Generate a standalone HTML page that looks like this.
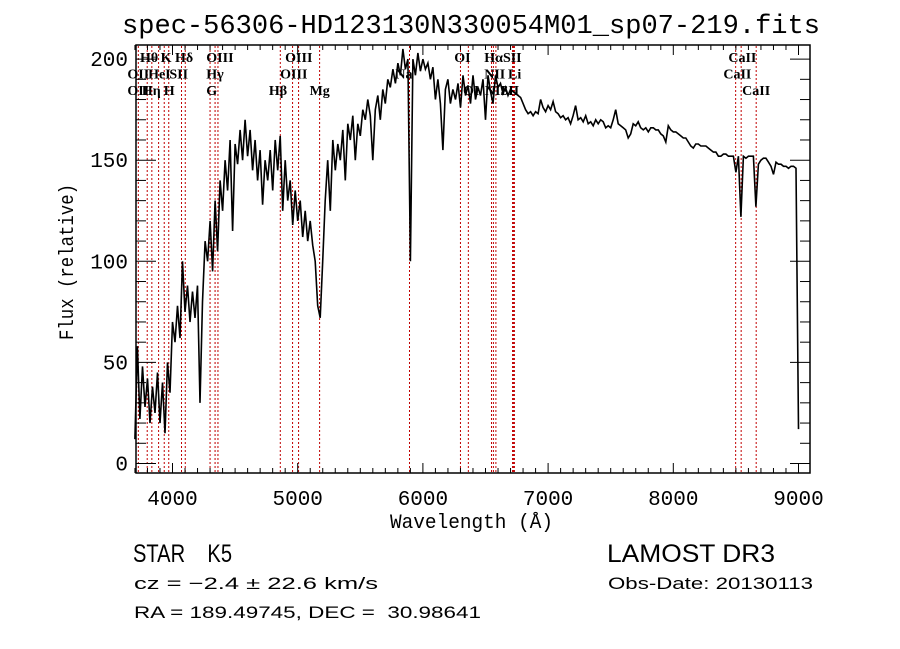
<!DOCTYPE html>
<html><head><meta charset="utf-8"><style>
html,body{margin:0;padding:0;background:#fff;}
svg{display:block;}
text{fill:#000;white-space:pre;}
.mono{font-family:"Liberation Mono",monospace;}
.lbl{font-family:"Liberation Serif",serif;font-size:14px;font-weight:600;}
</style></head><body>
<svg id="chart" width="900" height="649" viewBox="0 0 900 649" xmlns="http://www.w3.org/2000/svg" xml:space="preserve">
<rect width="900" height="649" fill="#fff"/>
<text class="mono" x="122" y="33" font-size="27" textLength="698" lengthAdjust="spacingAndGlyphs">spec-56306-HD123130N330054M01_sp07-219.fits</text>
<g id="lines"></g>
<g id="labels"></g>
<g id="spec"></g>
<rect x="136" y="45" width="674" height="428" fill="none" stroke="#000" stroke-width="1.5"/>
<g id="axes"></g>
<text class="mono" x="390" y="528" font-size="20" textLength="163" lengthAdjust="spacingAndGlyphs">Wavelength (Å)</text>
<text class="mono" transform="translate(73,340) rotate(-90)" font-size="20" textLength="156" lengthAdjust="spacingAndGlyphs">Flux (relative)</text>
<text font-family="Liberation Sans, sans-serif" x="133" y="562" font-size="25" textLength="99" lengthAdjust="spacingAndGlyphs">STAR    K5</text>
<text font-family="Liberation Sans, sans-serif" x="607" y="562" font-size="25" textLength="168" lengthAdjust="spacingAndGlyphs">LAMOST DR3</text>
<text font-family="Liberation Sans, sans-serif" x="134" y="589" font-size="17" textLength="244" lengthAdjust="spacingAndGlyphs">cz = −2.4 ± 22.6 km/s</text>
<text font-family="Liberation Sans, sans-serif" x="608" y="589" font-size="17" textLength="205" lengthAdjust="spacingAndGlyphs">Obs-Date: 20130113</text>
<text font-family="Liberation Sans, sans-serif" x="134" y="618" font-size="17" textLength="347" lengthAdjust="spacingAndGlyphs">RA = 189.49745, DEC =  30.98641</text>
</svg>
<script>
const waveStart = 3700;
const waveStep = 20;
const flux = [12,58,22,48,28,42,20,38,25,45,20,40,15,50,35,70,60,78,62,100,75,88,70,85,72,88,30,80,110,100,120,95,130,105,140,125,150,135,160,115,158,148,165,150,170,152,165,145,160,140,155,128,150,140,155,135,160,145,162,125,150,130,140,118,135,120,130,112,125,110,120,108,100,78,72,
100,130,150,125,160,145,158,150,165,140,168,160,172,150,168,162,175,170,180,172,150,175,182,170,185,178,190,186,195,188,198,192,205,195,200,100,200,192,203,194,200,195,198,190,196,180,190,178,155,185,190,178,185,180,188,176,192,182,187,178,192,180,186,182,190,170,192,184,178,192,186,188,183,186,182,185,184,183,182,
181,178,175,173,174,172,174,173,180,176,174,177,175,179,174,173,171,172,170,171,168,172,177,170,171,169,172,168,169,167,170,168,170,169,166,167,166,170,175,168,167,166,165,161,163,168,167,169,166,165,166,164,166,166,165,165,163,162,159,167,165,164,164,163,162,161,161,159,157,156,158,158,157,157,157,156,155,154,154,152,152,153,153,152,152,152,144,152,122,152,151,152,152,152,127,148,150,151,151,149,147,143,149,148,148,147,147,146,147,147,146,17];
const lineWaves = [3727,3798,3835,3889,3934,3970,4072,4102,4300,4340,4363,4861,4959,5007,5175,5893,6300,6363,6548,6563,6583,6716,6724,6731,8498,8542,8662];
const labelTexts = ["Hθ","K","Hδ","OIII","OIII","OI","HαSII","CaII","OII","HeI","SII","Hγ","OIII","Na","NII","Li","CaII","OII","Hη","H","G","Hβ","Mg","OI","NII","SII","CaII"];
const labelWaves = [3740,3905,4020,4270,4900,6250,6490,8440,3640,3805,3975,4270,4860,5780,6490,6680,8400,3640,3755,3930,4270,4770,5095,6320,6495,6620,8550];
const labelRows = [0,0,0,0,0,0,0,0,1,1,1,1,1,1,1,1,1,2,2,2,2,2,2,2,2,2,2];
const xTicks = [4000,5000,6000,7000,8000,9000];
const yTicks = [0,50,100,150,200];
const NS="http://www.w3.org/2000/svg";
function xs(l){return 172.5+(l-4000)*0.1252;}
function ys(f){return 463.5-f*2.022;}
function mk(tag,parent){const e=document.createElementNS(NS,tag);parent.appendChild(e);return e;}
const gl=document.getElementById('lines');
lineWaves.forEach(w=>{const l=mk('line',gl);


l.setAttribute('x1',xs(w));l.setAttribute('x2',xs(w));l.setAttribute('y1',46);l.setAttribute('y2',472);
l.setAttribute('stroke','#c00000');l.setAttribute('stroke-width','1');l.setAttribute('stroke-dasharray','2,2');});
const glb=document.getElementById('labels');
labelTexts.forEach((t,i)=>{const e=mk('text',glb);


e.setAttribute('class','lbl');e.setAttribute('x',xs(labelWaves[i]));e.setAttribute('y',62+labelRows[i]*16.5);e.textContent=t;});
const gs=document.getElementById('spec');
let d='';flux.forEach((f,i)=>{d+=(i?'L':'M')+xs(waveStart+i*waveStep).toFixed(1)+','+ys(f).toFixed(1);});
const p=mk('path',gs);


p.setAttribute('d',d);p.setAttribute('fill','none');p.setAttribute('stroke','#000');p.setAttribute('stroke-width','1.6');
const ga=document.getElementById('axes');
for(let w=3700;w<=9080;w+=100){const maj=w%1000===0;
[[473,473-(maj?10:5)],[45,45+(maj?10:5)]].forEach(([a,b])=>{const t=mk('line',ga);


t.setAttribute('x1',xs(w));t.setAttribute('x2',xs(w));t.setAttribute('y1',a);t.setAttribute('y2',b);t.setAttribute('stroke','#000');});}
for(let f=0;f<=205;f+=10){const maj=f%50===0;
[[136,136+(maj?20:10)],[810,810-(maj?20:10)]].forEach(([a,b])=>{const t=mk('line',ga);


t.setAttribute('x1',a);t.setAttribute('x2',b);t.setAttribute('y1',ys(f));t.setAttribute('y2',ys(f));t.setAttribute('stroke','#000');});}
xTicks.forEach(w=>{const e=mk('text',ga);


e.setAttribute('class','mono');e.setAttribute('font-size','21');e.setAttribute('text-anchor','middle');e.setAttribute('x',xs(w));e.setAttribute('y',505);e.textContent=w;});
yTicks.forEach(f=>{const e=mk('text',ga);


e.setAttribute('class','mono');e.setAttribute('font-size','21');e.setAttribute('text-anchor','end');e.setAttribute('x',128);e.setAttribute('y',ys(f)+7);e.textContent=f;});
</script>
</body></html>
